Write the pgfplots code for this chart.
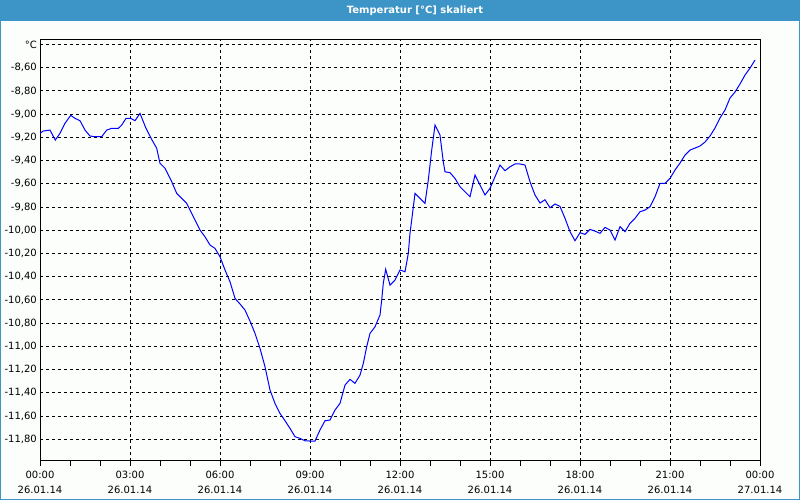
\documentclass[border=0pt]{standalone}
\usepackage{pgfplots}
\pgfplotsset{compat=1.18}
\usepackage{fontspec}
\setmainfont{DejaVu Sans}
\definecolor{barblue}{RGB}{61,148,198}
\definecolor{bgwhite}{RGB}{252,254,252}
\begin{document}
\begin{tikzpicture}
\useasboundingbox (0pt,0pt) rectangle (800pt,500pt);
\fill[bgwhite] (0pt,0pt) rectangle (800pt,500pt);
\fill[barblue] (0pt,479pt) rectangle (800pt,500pt);
\draw[barblue,line width=1pt] (0.5pt,0.5pt) rectangle (799.5pt,499.5pt);
\node[text=white,font=\bfseries\fontsize{10}{12}\selectfont,inner sep=0pt] at (415pt,489.5pt) {Temperatur [°C] skaliert};
\begin{axis}[
  at={(40pt,39pt)}, anchor=south west,
  width=720pt, height=421pt, scale only axis,
  xmin=0, xmax=24, ymin=-11.987, ymax=-8.361,
  axis line style={black, line width=1pt},
  xtick={0,3,6,9,12,15,18,21,24},
  xticklabels={00:00\\26.01.14,03:00\\26.01.14,06:00\\26.01.14,09:00\\26.01.14,12:00\\26.01.14,15:00\\26.01.14,18:00\\26.01.14,21:00\\26.01.14,00:00\\27.01.14},
  minor x tick num=2,
  ytick={-11.8,-11.6,-11.4,-11.2,-11.0,-10.8,-10.6,-10.4,-10.2,-10.0,-9.8,-9.6,-9.4,-9.2,-9.0,-8.8,-8.6,-8.4},
  yticklabels={-11{,}80,-11{,}60,-11{,}40,-11{,}20,-11{,}00,-10{,}80,-10{,}60,-10{,}40,-10{,}20,-10{,}00,-9{,}80,-9{,}60,-9{,}40,-9{,}20,-9{,}00,-8{,}80,-8{,}60,°C},
  grid=major,
  major grid style={black, line width=1pt, dash pattern=on 3pt off 3pt},
  tick align=outside,
  xtick pos=bottom, ytick pos=left,
  major tick length=5pt, minor tick length=5pt,
  xtick style={black, line width=1pt},
  ytick style={draw=none},
  /pgf/number format/assume math mode=true,
  xticklabel style={align=center, font=\fontsize{10}{15.3}\selectfont, inner sep=0pt, yshift=-5pt},
  yticklabel style={font=\fontsize{10}{12}\selectfont, inner sep=0pt, xshift=2pt},
]
\addplot[color={rgb,255:red,0;green,0;blue,255}, line width=1pt, mark=none] coordinates {
(0,-9.165) (0.11,-9.145) (0.333,-9.137) (0.51,-9.223) (0.667,-9.165) (0.833,-9.079) (1.023,-9.010) (1.167,-9.036) (1.333,-9.056) (1.5,-9.137) (1.667,-9.188) (1.833,-9.194) (2.057,-9.194) (2.223,-9.137) (2.39,-9.122) (2.61,-9.122) (2.723,-9.094) (2.867,-9.036) (3.023,-9.036) (3.167,-9.056) (3.333,-8.993) (3.533,-9.122) (3.723,-9.217) (3.89,-9.294) (4.0,-9.423) (4.167,-9.466) (4.39,-9.582) (4.557,-9.682) (4.723,-9.725) (4.89,-9.768) (5.11,-9.883) (5.333,-9.998) (5.5,-10.056) (5.667,-10.127) (5.833,-10.156) (6.0,-10.228) (6.167,-10.342) (6.333,-10.443) (6.5,-10.586) (6.667,-10.635) (6.833,-10.687) (7.0,-10.782) (7.167,-10.888) (7.333,-11.017) (7.5,-11.175) (7.667,-11.376) (7.833,-11.491) (8.0,-11.577) (8.167,-11.640) (8.333,-11.706) (8.5,-11.778) (8.667,-11.792) (8.833,-11.813) (9.0,-11.815) (9.167,-11.815) (9.333,-11.720) (9.5,-11.640) (9.667,-11.634) (9.833,-11.548) (10.0,-11.491) (10.167,-11.333) (10.333,-11.284) (10.5,-11.318) (10.667,-11.247) (10.777,-11.146) (10.89,-11.003) (11.0,-10.888) (11.167,-10.831) (11.333,-10.730) (11.39,-10.601) (11.443,-10.457) (11.523,-10.336) (11.667,-10.472) (11.833,-10.429) (12.0,-10.342) (12.167,-10.357) (12.277,-10.199) (12.333,-10.026) (12.39,-9.912) (12.5,-9.682) (12.667,-9.725) (12.833,-9.768) (12.943,-9.567) (13.057,-9.309) (13.167,-9.094) (13.333,-9.180) (13.443,-9.410) (13.5,-9.496) (13.667,-9.504) (13.833,-9.553) (14.0,-9.625) (14.167,-9.668) (14.333,-9.711) (14.5,-9.524) (14.667,-9.610) (14.833,-9.696) (15.0,-9.639) (15.167,-9.539) (15.333,-9.438) (15.5,-9.487) (15.667,-9.453) (15.833,-9.429) (16.0,-9.429) (16.167,-9.438) (16.333,-9.582) (16.5,-9.696) (16.667,-9.765) (16.833,-9.737) (17.0,-9.806) (17.167,-9.774) (17.333,-9.794) (17.5,-9.897) (17.667,-10.012) (17.833,-10.090) (18.0,-10.021) (18.167,-10.035) (18.333,-9.992) (18.5,-10.007) (18.667,-10.026) (18.833,-9.975) (19.0,-9.998) (19.167,-10.084) (19.333,-9.969) (19.5,-10.012) (19.667,-9.940) (19.833,-9.897) (20.0,-9.840) (20.167,-9.826) (20.333,-9.797) (20.5,-9.711) (20.667,-9.596) (20.833,-9.596) (21.0,-9.553) (21.167,-9.481) (21.333,-9.421) (21.5,-9.352) (21.667,-9.309) (21.833,-9.292) (22.0,-9.274) (22.167,-9.240) (22.333,-9.188) (22.5,-9.119) (22.667,-9.033) (22.833,-8.964) (23.0,-8.861) (23.167,-8.809) (23.333,-8.740) (23.5,-8.663) (23.667,-8.603) (23.833,-8.534)
};
\end{axis}
\end{tikzpicture}
\end{document}
